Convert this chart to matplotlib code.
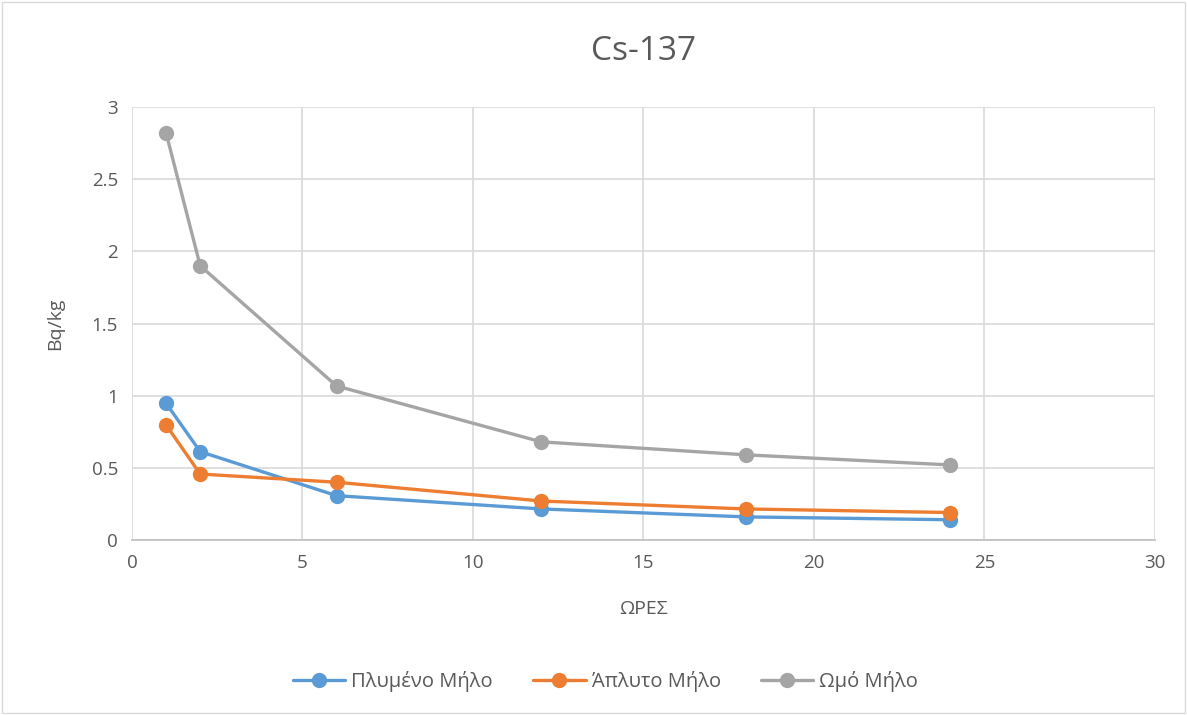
"""Cs-137 activity over time for three apple preparations."""

import matplotlib

matplotlib.use("Agg")
import matplotlib.pyplot as plt

hours = [1, 2, 6, 12, 18, 24]
washed = [0.947, 0.612, 0.307, 0.215, 0.16, 0.14]
unwashed = [0.797, 0.457, 0.40, 0.27, 0.215, 0.19]
raw = [2.82, 1.90, 1.067, 0.68, 0.59, 0.52]

series_names = ["Πλυμένο Μήλο", "Άπλυτο Μήλο", "Ωμό Μήλο"]
series_colors = ["#5B9BD5", "#ED7D31", "#A5A5A5"]

plt.rcParams["font.family"] = ["Open Sans", "DejaVu Sans"]
text_color = "#595959"

figure = plt.figure(figsize=(11.87, 7.15), dpi=100)
axis = figure.add_axes([0.1112, 0.2448, 0.8618, 0.6055])

for values, name, color in zip([washed, unwashed, raw], series_names, series_colors):
    axis.plot(hours, values, color=color, linewidth=2.4, marker="o",
              markersize=10, label=name, solid_capstyle="round", zorder=3)

axis.set_xlim(0, 30)
axis.set_ylim(0, 3)
axis.set_xticks(range(0, 31, 5))
axis.set_yticks([0, 0.5, 1, 1.5, 2, 2.5, 3])
axis.set_yticklabels(["0", "0.5", "1", "1.5", "2", "2.5", "3"])
axis.grid(True, color="#D9D9D9", linewidth=1.2)
axis.set_axisbelow(True)
for side in ["top", "right", "left"]:
    axis.spines[side].set_visible(False)
axis.spines["bottom"].set_color("#BFBFBF")
axis.spines["bottom"].set_linewidth(1.2)
axis.tick_params(length=0, labelsize=13.5, labelcolor=text_color, pad=10)

axis.set_title("Cs-137", fontsize=24, color=text_color, pad=34)
axis.set_xlabel("ΩΡΕΣ", fontsize=14, color=text_color, labelpad=20)
axis.set_ylabel("Bq/kg", fontsize=14, color=text_color, labelpad=20)

axis.legend(loc="center", bbox_to_anchor=(0.463, -0.327), ncol=3, frameon=False,
            fontsize=14.5, labelcolor=text_color, handlelength=2.6,
            columnspacing=2.0, handletextpad=0.3)

figure.patches.append(plt.Rectangle((0.002, 0.003), 0.996, 0.994, transform=figure.transFigure,
                                    fill=False, edgecolor="#D9D9D9", linewidth=1))

figure.savefig("out.png", dpi=100)
plt.close(figure)
